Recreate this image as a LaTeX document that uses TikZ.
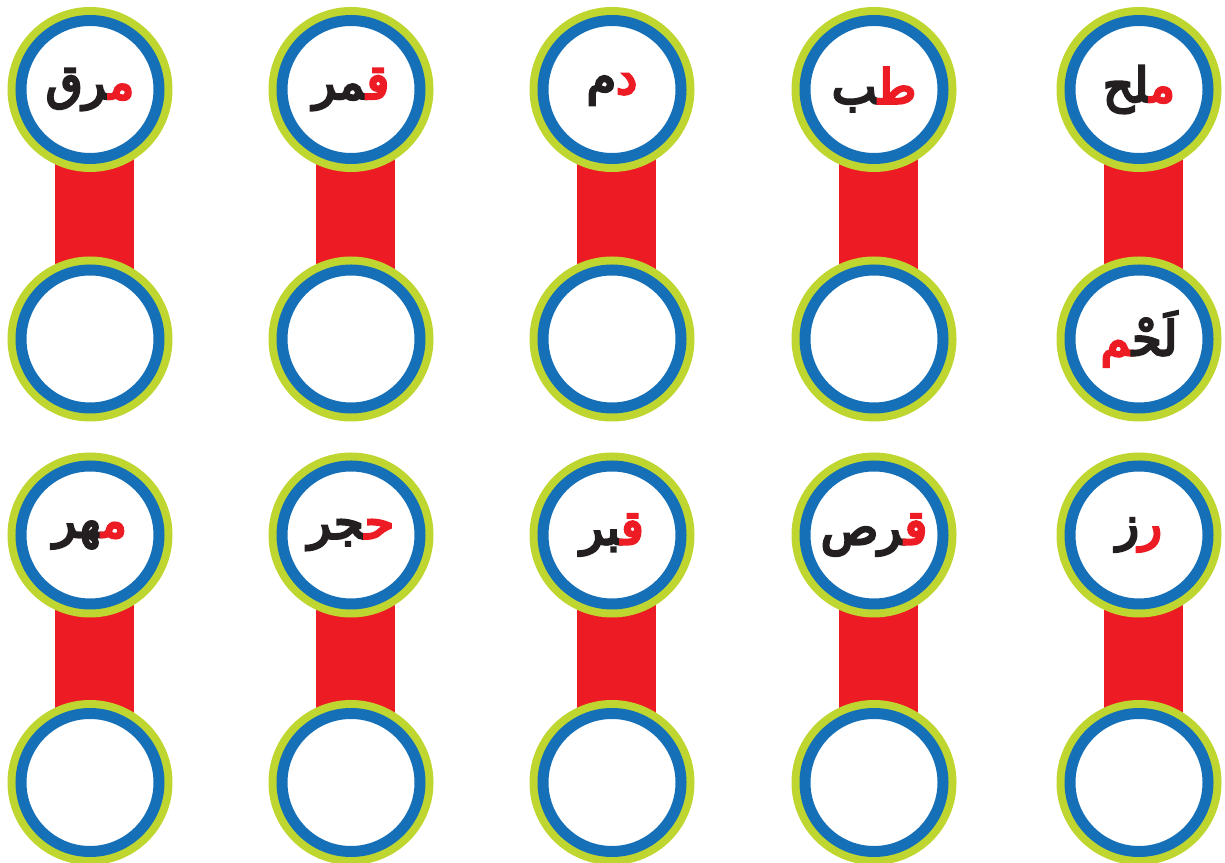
\documentclass[tikz,border=0pt]{standalone}
\usepackage{fontspec}
\usepackage{xcolor}
\newfontfamily\arabicfont[Script=Arabic, FakeBold=5.5]{DejaVu Sans}
\definecolor{ringgreen}{RGB}{190,214,47}
\definecolor{ringblue}{RGB}{21,112,184}
\definecolor{barred}{RGB}{237,28,36}
\definecolor{wordblack}{RGB}{35,31,32}
\usetikzlibrary{backgrounds}
% zero width joiner keeps the letters joined across the colour change
\newcommand{\zj}{\char"200D}
\newcommand{\redpart}[1]{{\color{barred}#1}}
% word pieces are written in visual order, left to right
\newcommand{\word}[1]{\raisebox{-4pt}{\arabicfont\fontsize{27}{32}\selectfont #1}}

\begin{document}
\begin{tikzpicture}[
    ring/.style={circle, minimum size=2.76cm, inner sep=0pt, fill=white,
                 draw=ringblue, line width=0.22cm,
                 preaction={draw=ringgreen, line width=0.54cm},
                 text=wordblack},
    bar/.style={barred, line width=1.58cm}]
\useasboundingbox (0,0) rectangle (24.5,17.26);

% --- Row 1: top circles ---
\node[ring] (t1) at (1.8,15.47) {\word{\zj رق\redpart{م\zj}}};
\node[ring] (t2) at (7.02,15.47) {\word{\zj مر\redpart{ق\zj}}};
\node[ring] (t3) at (12.24,15.47) {\word{م\redpart{د}}};
\node[ring] (t4) at (17.48,15.47) {\word{\zj ب\redpart{ط\zj}}};
\node[ring] (t5) at (22.78,15.47) {\word{\zj لح\redpart{م\zj}}};

% --- Row 1: bottom circles ---
\node[ring] (b1) at (1.8,10.48) {};
\node[ring] (b2) at (7.02,10.48) {};
\node[ring] (b3) at (12.24,10.48) {};
\node[ring] (b4) at (17.48,10.48) {};
\node[ring] (b5) at (22.78,10.48) {\word{\redpart{\zj م}لَحْ\zj}};

% --- Row 2: top circles ---
\node[ring] (t6) at (1.8,6.56) {\word{\zj هر\redpart{م\zj}}};
\node[ring] (t7) at (7.02,6.56) {\word{\zj جر\redpart{ح\zj}}};
\node[ring] (t8) at (12.24,6.56) {\word{\zj بر\redpart{ق\zj}}};
\node[ring] (t9) at (17.48,6.56) {\word{\zj رص\redpart{ق\zj}}};
\node[ring] (t10) at (22.78,6.56) {\word{ز\redpart{ر}}};

% --- Row 2: bottom circles ---
\node[ring] (b6) at (1.8,1.61) {};
\node[ring] (b7) at (7.02,1.61) {};
\node[ring] (b8) at (12.24,1.61) {};
\node[ring] (b9) at (17.48,1.61) {};
\node[ring] (b10) at (22.78,1.61) {};

% --- Red bars behind the circles ---
\begin{scope}[on background layer]
\draw[bar] ([xshift=0.08cm]t1.center) -- ([xshift=0.08cm]b1.center);
\draw[bar] ([xshift=0.08cm]t2.center) -- ([xshift=0.08cm]b2.center);
\draw[bar] ([xshift=0.08cm]t3.center) -- ([xshift=0.08cm]b3.center);
\draw[bar] ([xshift=0.08cm]t4.center) -- ([xshift=0.08cm]b4.center);
\draw[bar] ([xshift=0.08cm]t5.center) -- ([xshift=0.08cm]b5.center);
\draw[bar] ([xshift=0.08cm]t6.center) -- ([xshift=0.08cm]b6.center);
\draw[bar] ([xshift=0.08cm]t7.center) -- ([xshift=0.08cm]b7.center);
\draw[bar] ([xshift=0.08cm]t8.center) -- ([xshift=0.08cm]b8.center);
\draw[bar] ([xshift=0.08cm]t9.center) -- ([xshift=0.08cm]b9.center);
\draw[bar] ([xshift=0.08cm]t10.center) -- ([xshift=0.08cm]b10.center);
\end{scope}

\end{tikzpicture}
\end{document}
